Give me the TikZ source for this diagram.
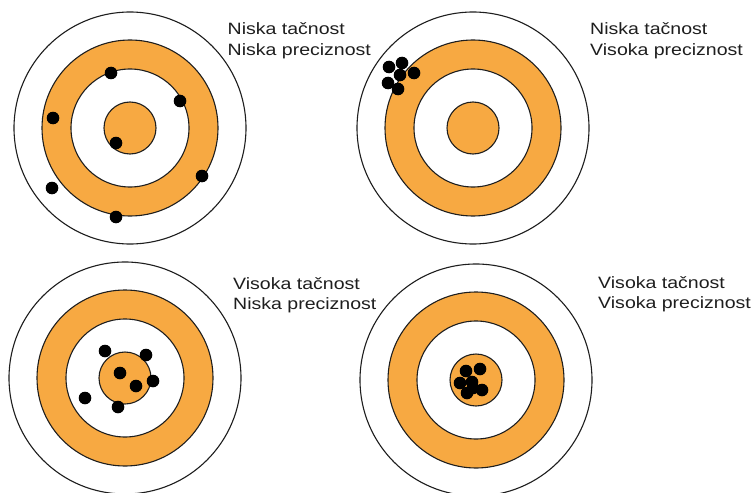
\documentclass[tikz,border=0pt]{standalone}
\usepackage{fontspec}
\setmainfont{Liberation Sans}
\definecolor{ringorange}{RGB}{247,169,66}
\definecolor{ringline}{RGB}{30,30,30}
\definecolor{txt}{RGB}{30,30,30}
\tikzset{
  ring/.style={draw=ringline, line width=1.1pt},
  hit/.style={fill=black},
  lbl/.style={anchor=base west, inner sep=0pt, align=left, text=txt,
    font=\fontsize{16.4}{20.8}\selectfont, xscale=1.19, transform shape},
}
\newcommand{\mytarget}[1]{%
  \fill[white, ring] (#1) circle (116);
  \fill[ringorange, ring] (#1) circle (88);
  \fill[white, ring] (#1) circle (59);
  \fill[ringorange, ring] (#1) circle (26);
}
\newcommand{\myhit}[1]{\fill[hit] (#1) circle (6.3);}
\begin{document}
\begin{tikzpicture}[x=1pt,y=-1pt]
\useasboundingbox (0,0) rectangle (751,492);
\fill[white] (0,0) rectangle (751,492);
% targets
\mytarget{130,128}
\mytarget{473,128}
\mytarget{125,378}
\mytarget{476,380}
% target 1 hits
\foreach \p in {{111,73},{180,101},{53,118},{116,143},{202,176},{52,188},{116,217}} {\myhit{\p}}
% target 2 hits
\foreach \p in {{389,67},{402,63},{414,73},{400,75},{388,83},{398,89}} {\myhit{\p}}
% target 3 hits
\foreach \p in {{105,351},{146,355},{120,373},{153,381},{136,386},{85,398},{118,407}} {\myhit{\p}}
% target 4 hits
\foreach \p in {{466,371},{480,369},{460,383},{472,382},{467,393},{482,390},{473,388}} {\myhit{\p}}
% labels (anchor at baseline of the second line)
\node[lbl] (l1) at (227.5,55.8) {Niska tačnost\\Niska preciznost};
\node[lbl] (l2) at (590,55.8) {Niska tačnost\\Visoka preciznost};
\node[lbl] (l3) at (233,309.8) {Visoka tačnost\\Niska preciznost};
\node[lbl] (l4) at (598,308.8) {Visoka tačnost\\Visoka preciznost};
\end{tikzpicture}
\end{document}
